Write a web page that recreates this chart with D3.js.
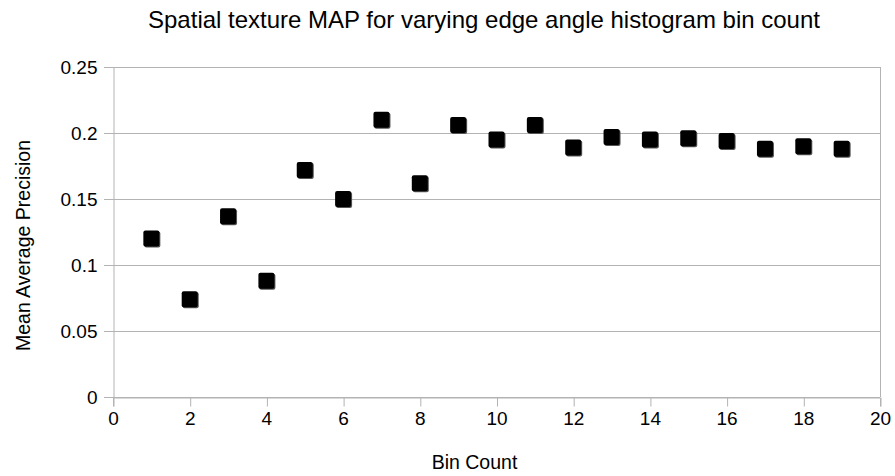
<!DOCTYPE html>
<html><head><meta charset="utf-8">
<script src="https://cdn.jsdelivr.net/npm/d3@7"></script>
<style>body{margin:0;background:#fff}</style>
</head><body>
<svg id="c" width="895" height="476"></svg>
<script>
const binCounts = [1,2,3,4,5,6,7,8,9,10,11,12,13,14,15,16,17,18,19];
const mapValues = [0.120,0.074,0.137,0.088,0.172,0.150,0.210,0.162,0.206,0.195,0.206,0.189,0.197,0.195,0.196,0.194,0.188,0.190,0.188];
const xTicks = [0,2,4,6,8,10,12,14,16,18,20];
const yTicks = [0,0.05,0.1,0.15,0.2,0.25];
const title = "Spatial texture MAP for varying edge angle histogram bin count";
const xTitle = "Bin Count";
const yTitle = "Mean Average Precision";

const svg = d3.select("#c");
const font = "'Liberation Sans', Arial, sans-serif";
const L = 113, R = 880, T = 67, B = 397;
const x = d3.scaleLinear().domain([0,20]).range([L,R]);
const y = d3.scaleLinear().domain([0,0.25]).range([B,T]);

// gridlines
svg.append("g").selectAll("line").data(yTicks).join("line")
  .attr("x1", L-9).attr("x2", R).attr("y1", d=>y(d)+0.5).attr("y2", d=>y(d)+0.5)
  .attr("stroke", "#b3b3b3").attr("stroke-width", 1);
// right border
svg.append("line").attr("x1", R+0.5).attr("x2", R+0.5).attr("y1", T).attr("y2", B)
  .attr("stroke", "#b3b3b3");

// y axis
const yAxis = svg.append("g").attr("transform", `translate(${L+0.5},0)`)
  .call(d3.axisLeft(y).tickValues(yTicks).tickSize(0).tickPadding(16).tickFormat(d=>String(d)));
yAxis.select(".domain").attr("stroke", "#b3b3b3");
yAxis.selectAll("text").attr("font-family", font).attr("font-size", 19).attr("fill", "#000").attr("dy", "0.36em");

// x axis
const xAxis = svg.append("g").attr("transform", `translate(0,${B+0.5})`)
  .call(d3.axisBottom(x).tickValues(xTicks).tickSize(9).tickPadding(5).tickFormat(d=>String(d)));
xAxis.select(".domain").attr("stroke", "#b3b3b3");
xAxis.selectAll(".tick line").attr("stroke", "#b3b3b3").attr("transform","translate(0.5,0)");
xAxis.selectAll("text").attr("font-family", font).attr("font-size", 19).attr("fill", "#000");

// points
const s = 16;
const g = svg.append("g");
g.selectAll("rect.sh").data(binCounts).join("rect").attr("class","sh")
  .attr("x", (d)=>x(d)-s/2+1).attr("y", (d,i)=>y(mapValues[i])-s/2+1)
  .attr("width", s).attr("height", s).attr("rx", 2).attr("fill", "#555");
g.selectAll("rect.pt").data(binCounts).join("rect").attr("class","pt")
  .attr("x", (d)=>x(d)-s/2).attr("y", (d,i)=>y(mapValues[i])-s/2)
  .attr("width", s).attr("height", s).attr("rx", 2).attr("fill", "#000");

// titles
svg.append("text").attr("x", 484).attr("y", 28).attr("text-anchor", "middle")
  .attr("font-family", font).attr("font-size", 24).attr("fill", "#000").text(title);
svg.append("text").attr("x", 474.5).attr("y", 469).attr("text-anchor", "middle")
  .attr("font-family", font).attr("font-size", 19.5).attr("fill", "#000").text(xTitle);
svg.append("text").attr("transform", "translate(30,245.5) rotate(-90)").attr("text-anchor", "middle")
  .attr("font-family", font).attr("font-size", 19.5).attr("fill", "#000").text(yTitle);
</script>
</body></html>
